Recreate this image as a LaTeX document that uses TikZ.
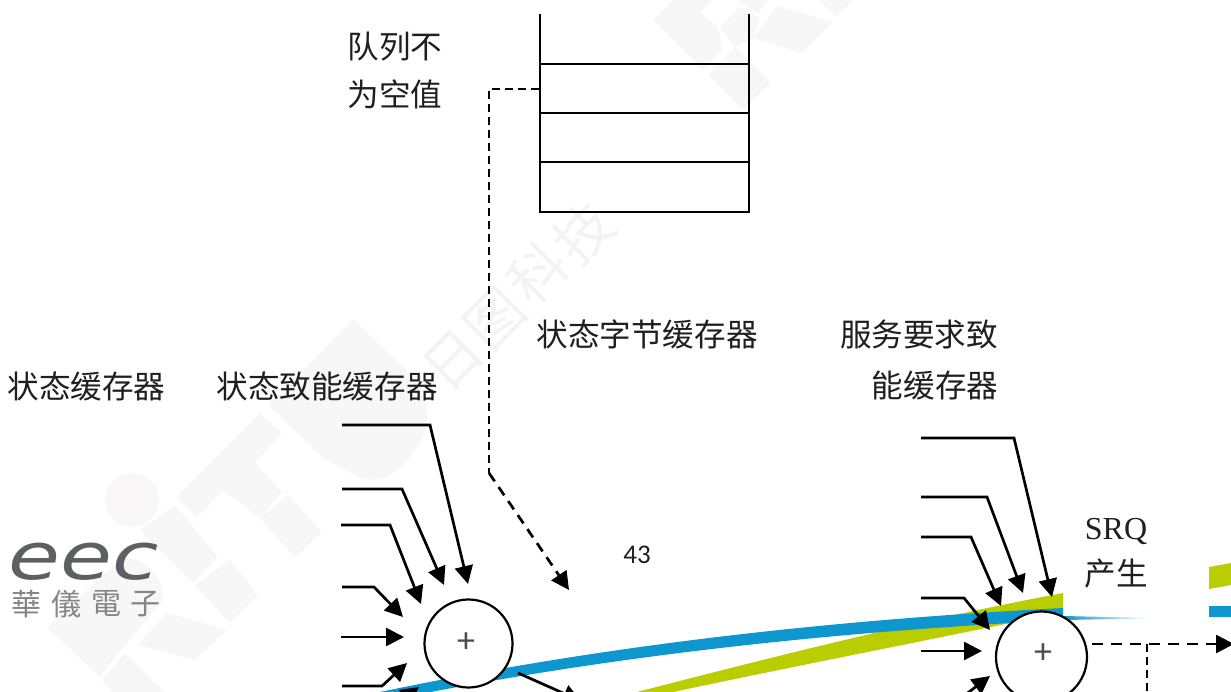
\documentclass[tikz,border=0pt]{standalone}
\usepackage{fontspec}
\setmainfont{Liberation Serif}
\newfontfamily\cjk{Noto Sans CJK SC}
\newfontfamily\cjktc{Noto Sans CJK TC}
\newfontfamily\latn{Carlito}
\newfontfamily\logo{DejaVu Sans}
\usetikzlibrary{arrows.meta}
\definecolor{txt}{HTML}{1F1F1F}
\definecolor{swgreen}{HTML}{B9CD00}
\definecolor{swblue}{HTML}{0E97CE}
\definecolor{wm}{HTML}{F7F7F7}
\definecolor{wmc}{HTML}{F9F7F7}
\definecolor{wmtext}{HTML}{F3F3F3}
\definecolor{logogray}{HTML}{5E5F63}
\definecolor{logotext}{HTML}{858585}
\tikzset{
  x=1pt,y=-1pt,
  lbl/.style={font=\fontsize{31.6}{32}\selectfont\cjk,text=txt,inner sep=0pt,anchor=center},
  conn/.style={line width=2.7pt,-{Triangle[length=18pt,width=18pt]},line join=miter},
  dconn/.style={conn,dash pattern=on 10pt off 7pt},
  reg/.style={line width=2.3pt,draw=black},
  sumc/.style={circle,draw=black,fill=white,line width=2.2pt,minimum size=88pt,inner sep=0pt},
  plus/.style={font=\fontsize{36}{36}\selectfont\latn,text=black!70,inner sep=0pt},
  wmshape/.style={fill=wm,draw=none},
  wmt/.style={rotate=45,text=wmtext,font=\fontsize{57}{57}\selectfont\cjk,inner sep=0pt},
  hua/.style={font=\fontsize{30}{30}\selectfont\cjktc,text=logotext,inner sep=0pt},
}
\begin{document}
\begin{tikzpicture}
\useasboundingbox (0,0) rectangle (1231,692);
\clip (0,0) rectangle (1231,692);
% watermark shapes
\fill[wmshape] (260,413) -- (282,433) -- (255,463) -- (282,492) -- (260,518) -- (223,490) -- (197,518) -- (176,497) -- cycle;
\fill[wmshape] (260,518) -- (288,495) -- (322,532) -- (295,558) -- cycle;
\fill[wmshape] (353,319) -- (403,367) .. controls (430,395) and (435,425) .. (415,450) .. controls (395,480) and (375,485) .. (355,475) -- (323,458) -- (268,405) -- (328,345) -- cycle;
\fill[wmshape] (175,505) -- (218,557) -- (193,583) -- (140,530) -- cycle;
\fill[wmshape] (195,585) -- (230,560) -- (258,595) -- (230,623) -- cycle;
\fill[wmshape] (137,645) -- (167,613) -- (227,630) -- (195,660) -- cycle;
\fill[wmshape] (47,627) -- (123,557) .. controls (150,560) and (165,580) .. (163,600) -- (115,657) -- (100,677) -- cycle;
\fill[wmshape] (102,680) -- (125,653) -- (165,692) -- (112,692) -- cycle;
\fill[wmc] (132,500) circle (27);
\fill[wmshape] (653,20) -- (673,0) -- (712,0) -- (700,12) -- (718,27) -- (722,50) -- (703,70) -- cycle;
\fill[wmshape] (708,75) -- (735,47) -- (771,83) -- (743,110) -- cycle;
\fill[wmshape] (720,27) -- (740,7) -- (760,18) -- (753,38) -- (735,47) -- cycle;
\fill[wmshape] (753,38) -- (777,6) -- (833,22) -- (802,53) -- cycle;
\fill[wmshape] (737,0) -- (768,0) -- (758,14) -- cycle;
\fill[wmshape] (818,0) -- (853,0) -- (837,17) -- cycle;
% watermark text
\node[wmt] (wa) at (453,360) {日};
\node[wmt] (wb) at (495,319) {图};
\node[wmt] (wc) at (537,273) {科};
\node[wmt] (wd) at (583,233) {技};
% swooshes
\fill[swgreen] (615,700) -- (637,692) .. controls (780,655) and (920,620) .. (1063,593)
  -- (1063,612) .. controls (930,640) and (790,667) .. (673,692) -- (655,700) -- cycle;
\fill[swblue] (370,694) -- (380,692) .. controls (610,644) and (833,620) .. (1063,608)
  -- (1063,620) .. controls (833,632) and (610,655) .. (380,702) -- cycle;
\shade[left color=swblue,right color=white] (1063,616) -- (1150,618) -- (1150,618.5) -- (1063,620) -- cycle;
\fill[swgreen] (1209,567) -- (1231,563) -- (1231,585) -- (1209,589) -- cycle;
\fill[swblue] (1209,606) rectangle (1231,617);
% register stack
\coordinate (s1) at (540,14);
\coordinate (s2) at (749,14);
\coordinate (s3) at (540,212);
\coordinate (s4) at (749,212);
\draw[reg] (s1) -- (s3) -- (s4) -- (s2);
\draw[reg] (540,64) -- (749,64);
\draw[reg] (540,113) -- (749,113);
\draw[reg] (540,162) -- (749,162);
\coordinate (q) at (539,89);
% sum nodes
\node[sumc] (L) at (468.5,643.5) {};
\node[plus] (Lp) at (466,643) {+};
\node[sumc,minimum size=91pt] (R) at (1041.5,657) {};
\node[plus] (Rp) at (1043,654) {+};
% labels
\node[lbl] (t1) at (395,46.5) {队列不};
\node[lbl] (t2) at (395,94.5) {为空值};
\node[lbl] (t3) at (86.5,386) {状态缓存器};
\node[lbl] (t4) at (327,386) {状态致能缓存器};
\node[lbl] (t5) at (647,334) {状态字节缓存器};
\node[lbl] (t6) at (919,335) {服务要求致};
\node[lbl] (t7) at (935,386) {能缓存器};
\node[text=txt,inner sep=0pt,font=\fontsize{32}{32}\selectfont] (t8) at (1116,531) {SRQ};
\node[lbl] (t9) at (1116,574) {产生};
\node[font=\fontsize{27}{27}\selectfont\latn,text=txt,inner sep=0pt] (pg) at (637,555) {43};
% logo
\node[font=\fontsize{62}{62}\selectfont\logo\itshape,text=logogray,inner sep=0pt,xscale=1.36,yscale=1.05] (eec) at (83.5,562) {eec};
\node[hua] (h1) at (26,604) {華};
\node[hua] (h2) at (66,604) {儀};
\node[hua] (h3) at (106,604) {電};
\node[hua] (h4) at (145,604) {子};
% left inputs
\coordinate (a1) at (342,425); \coordinate (a1t) at (468,584);
\coordinate (a2) at (342,489); \coordinate (a2t) at (444,585);
\coordinate (a3) at (341,525); \coordinate (a3t) at (421,604);
\coordinate (a4) at (342,587); \coordinate (a4t) at (403,617);
\coordinate (a5) at (341,637); \coordinate (a5t) at (404,637);
\coordinate (a6) at (342,686); \coordinate (a6t) at (407,663);
\coordinate (a7) at (398,702); \coordinate (a7t) at (419,687);
\draw[conn] (a1) -- (430,425) -- (a1t);
\draw[conn] (a2) -- (402,489) -- (a2t);
\draw[conn] (a3) -- (390,525) -- (a3t);
\draw[conn] (a4) -- (374,587) -- (a4t);
\draw[conn] (a5) -- (a5t);
\draw[conn] (a6) -- (382,686) -- (a6t);
\draw[conn] (a7) -- (a7t);
\coordinate (ls) at (518,673);
\coordinate (lo) at (581,701);
\draw[conn] (ls) -- (lo);
% dashed
\coordinate (d) at (569,590);
\coordinate (bend) at (489,473);
\draw[line width=2.2pt,dash pattern=on 8pt off 5pt] (q) -- (489,89) -- (bend);
\draw[dconn] (bend) -- (d);
% right inputs
\coordinate (b1) at (921,438); \coordinate (b1t) at (1052,597);
\coordinate (b2) at (921,497); \coordinate (b2t) at (1023,593);
\coordinate (b3) at (921,537); \coordinate (b3t) at (1001,606);
\coordinate (b4) at (921,598); \coordinate (b4t) at (990,630);
\coordinate (b5) at (921,651); \coordinate (b5t) at (982,651);
\coordinate (b6) at (965,695); \coordinate (b6t) at (990,676);
\draw[conn] (b1) -- (1014,438) -- (b1t);
\draw[conn] (b2) -- (987,497) -- (b2t);
\draw[conn] (b3) -- (971,537) -- (b3t);
\draw[conn] (b4) -- (964,598) -- (b4t);
\draw[conn] (b5) -- (b5t);
\draw[conn] (b6) -- (b6t);
\coordinate (o) at (1234,644);
\coordinate (j) at (1147,644);
\coordinate (jb) at (1147,700);
\draw[conn,dash pattern=on 11pt off 8pt] (1092,644) -- (o);
\draw[line width=2.2pt,dash pattern=on 8pt off 5pt] (j) -- (jb);
\end{tikzpicture}
\end{document}
